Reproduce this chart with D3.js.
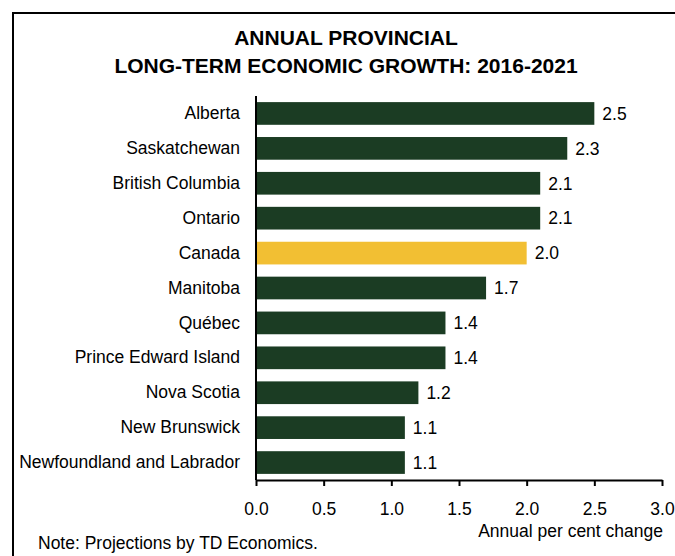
<!DOCTYPE html>
<html><head><meta charset="utf-8">
<script src="https://cdn.jsdelivr.net/npm/d3@7"></script>
<style>body{margin:0;background:#fff}svg{display:block}text{font-family:"Liberation Sans",Arial,sans-serif}</style>
</head><body><svg id="c" width="675" height="556"></svg>
<script>
const categories = ["Alberta","Saskatchewan","British Columbia","Ontario","Canada","Manitoba","Québec","Prince Edward Island","Nova Scotia","New Brunswick","Newfoundland and Labrador"];
const values = [2.5,2.3,2.1,2.1,2.0,1.7,1.4,1.4,1.2,1.1,1.1];
const highlight = ["Canada"];
const xTicks = [0,0.5,1.0,1.5,2.0,2.5,3.0];
const titleLines = ["ANNUAL PROVINCIAL","LONG-TERM ECONOMIC GROWTH: 2016-2021"];
const xTitle = "Annual per cent change";
const note = "Note: Projections by TD Economics.";

const svg = d3.select("#c");
const green = "#1b3c23", gold = "#f2bf33";
const fs = 17.5;

// frame
svg.append("path").attr("d","M13,556 L13,13 L675,13").attr("fill","none").attr("stroke","#000").attr("stroke-width",2);

const x = d3.scaleLinear().domain([0,3]).range([256,662]);
const y = d3.scaleBand().domain(categories).range([96,480]).paddingInner(0.35).paddingOuter(0.175);

svg.selectAll("text.title").data(titleLines).enter().append("text")
  .attr("x",346).attr("y",(d,i)=>45+i*28).attr("text-anchor","middle")
  .attr("font-size",21).attr("font-weight","bold").text(d=>d);

svg.selectAll("rect.bar").data(categories).enter().append("rect")
  .attr("x",x(0)).attr("y",d=>y(d)).attr("height",y.bandwidth())
  .attr("width",(d,i)=>x(values[i])-x(0))
  .attr("fill",d=>highlight.includes(d)?gold:green);

svg.selectAll("text.val").data(categories).enter().append("text")
  .attr("x",(d,i)=>x(values[i])+8).attr("y",d=>y(d)+y.bandwidth()/2).attr("dy","0.36em")
  .attr("font-size",fs).text((d,i)=>values[i].toFixed(1));

// y axis
const ya = svg.append("g").attr("transform","translate(256,0)")
  .call(d3.axisLeft(y).tickSize(0).tickPadding(16));
ya.select(".domain").attr("stroke","#000").attr("stroke-width",2).attr("d","M0,96V480");
ya.selectAll("text").attr("font-size",fs).attr("fill","#000").attr("font-family","Liberation Sans, Arial, sans-serif");

// x axis
const xa = svg.append("g").attr("transform","translate(0,480)")
  .call(d3.axisBottom(x).tickValues(xTicks).tickFormat(d3.format(".1f")).tickSize(6).tickPadding(16.5).tickSizeOuter(0));
xa.select(".domain").attr("stroke","#000").attr("stroke-width",2);
xa.selectAll(".tick line").attr("stroke","#000").attr("stroke-width",2);
xa.selectAll("text").attr("font-size",fs).attr("fill","#000").attr("font-family","Liberation Sans, Arial, sans-serif");

svg.append("text").attr("x",663).attr("y",537).attr("text-anchor","end").attr("font-size",fs).text(xTitle);
svg.append("text").attr("x",38).attr("y",549).attr("font-size",fs).text(note);
</script></body></html>
